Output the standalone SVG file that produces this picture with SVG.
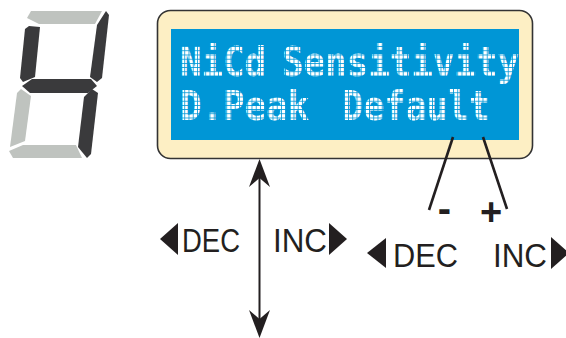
<svg xmlns="http://www.w3.org/2000/svg" width="566" height="338" viewBox="0 0 566 338">
  <style>
    .seg-on { fill: #3a3a3c; }
    .seg-off { fill: #bfc3bf; }
    .lcd { font-family: "DejaVu Sans Mono", "Liberation Mono", monospace; font-size: 40px; font-weight: bold; fill: #ffffff; }
    .lbl { font-family: "Liberation Sans", Arial, sans-serif; font-size: 33px; fill: #231f20; }
    .sign { font-family: "Liberation Sans", Arial, sans-serif; font-weight: bold; fill: #231f20; text-anchor: middle; }
    .line { stroke: #231f20; fill: none; }
    .tri { fill: #231f20; }
  </style>
  <defs>
    <pattern id="grid" patternUnits="userSpaceOnUse" x="181" y="47" width="4.2" height="4.2">
      <rect x="3.4" y="0" width="0.8" height="4.2" fill="#0096d6"/>
      <rect x="0" y="3.4" width="4.2" height="0.8" fill="#0096d6"/>
    </pattern>
  </defs>

  <g id="digit">
    <polygon class="seg-off" points="27,18 31,11 102,11 95,24 39,24"/>
    <polygon class="seg-on" points="106,11 109,15 102,78 97,82 90,77 97,25"/>
    <polygon class="seg-on" points="25,29 29,26 40,27 35,77 23,82 20,78"/>
    <polygon class="seg-on" points="22,86 32,79 91,79 97,86 88,93 30,93"/>
    <polygon class="seg-off" points="17,93 21,89 31,96 25,141 10,147"/>
    <polygon class="seg-on" points="84,97 92,89 98,93 91,154 87,158 78,147"/>
    <polygon class="seg-off" points="9,151 23,145 76,145 82,158 13,158"/>
  </g>

  <g id="display">
    <rect x="157.5" y="10.5" width="375" height="148" rx="13" fill="#fdefc4" stroke="#333333" stroke-width="1.6"/>
    <rect x="171" y="29" width="348" height="111" fill="#0096d6"/>
    <text class="lcd" x="180" y="76" textLength="86" lengthAdjust="spacingAndGlyphs">NiCd</text>
    <text class="lcd" x="282" y="76" textLength="237" lengthAdjust="spacingAndGlyphs">Sensitivity</text>
    <text class="lcd" x="180" y="120" textLength="129" lengthAdjust="spacingAndGlyphs">D.Peak</text>
    <text class="lcd" x="342" y="120" textLength="148" lengthAdjust="spacingAndGlyphs">Default</text>
    <rect x="171" y="29" width="348" height="111" fill="url(#grid)"/>
  </g>

  <g id="connectors">
    <line class="line" x1="259.5" y1="170" x2="259.5" y2="328" stroke-width="2"/>
    <polygon class="tri" points="259.5,159 270,187 259.5,178 249,187"/>
    <polygon class="tri" points="259.5,338 270,310 259.5,319 249,310"/>
    <line class="line" x1="453" y1="137" x2="429" y2="210" stroke-width="2.6"/>
    <line class="line" x1="483" y1="137" x2="507" y2="209" stroke-width="2.6"/>
  </g>

  <g id="left-controls">
    <polygon class="tri" points="160,239 178,223 178,255"/>
    <text class="lbl" x="182" y="252" textLength="58" lengthAdjust="spacingAndGlyphs">DEC</text>
    <text class="lbl" x="273" y="252" textLength="54" lengthAdjust="spacingAndGlyphs">INC</text>
    <polygon class="tri" points="347,239 329,223 329,255"/>
  </g>

  <g id="right-controls">
    <text class="sign" x="444.5" y="222" font-size="40">-</text>
    <text class="sign" x="491" y="225" font-size="38">+</text>
    <polygon class="tri" points="367,253 386,238 386,268"/>
    <text class="lbl" x="393" y="267" textLength="65" lengthAdjust="spacingAndGlyphs">DEC</text>
    <text class="lbl" x="493" y="267" textLength="54" lengthAdjust="spacingAndGlyphs">INC</text>
    <polygon class="tri" points="551,237 551,269 569,253"/>
  </g>
</svg>
